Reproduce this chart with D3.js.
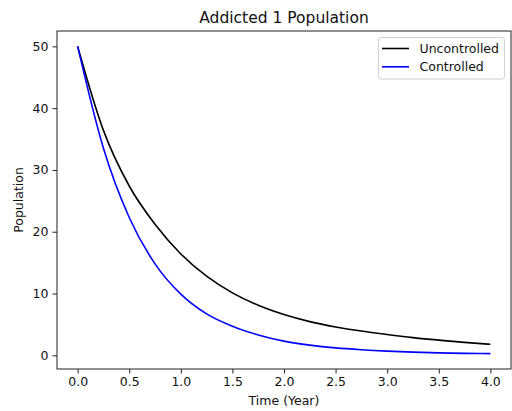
<!DOCTYPE html>
<html>
<head>
<meta charset="utf-8">
<script src="https://cdn.jsdelivr.net/npm/d3@7"></script>
<style>
  body { margin: 0; background: #fff; }
  svg { display: block; font-family: "DejaVu Sans", sans-serif; }
</style>
</head>
<body>
<svg id="chart" width="512" height="411"></svg>
<script>
// values, every 0.25 year
var times = [0, 0.25, 0.5, 0.75, 1.0, 1.25, 1.5, 1.75, 2.0, 2.25, 2.5, 2.75, 3.0, 3.25, 3.5, 3.75, 4.0];
var uncontrolled = [50, 36.4, 27.4, 21.2, 16.4, 12.8, 10.1, 8.1, 6.6, 5.45, 4.59, 3.93, 3.36, 2.86, 2.46, 2.09, 1.78];
var controlled = [50, 33.5, 22.3, 14.8, 9.9, 6.7, 4.7, 3.3, 2.3, 1.65, 1.2, 0.9, 0.68, 0.52, 0.4, 0.32, 0.27];
var seriesNames = ["Uncontrolled", "Controlled"];
var seriesColors = ["#000000", "#0000ff"];
var xTicks = [0, 0.5, 1, 1.5, 2, 2.5, 3, 3.5, 4];
var yTicks = [0, 10, 20, 30, 40, 50];

var margin = {top: 31, right: 1, bottom: 42, left: 57};
var width = 512, height = 411;
var svg = d3.select("#chart");

// matplotlib style 5% padding
var xMin = d3.min(times), xMax = d3.max(times);
var xPad = (xMax - xMin) * 0.05;
var allY = uncontrolled.concat(controlled);
var yMin = d3.min(allY), yMax = d3.max(allY);
var yPad = (yMax - yMin) * 0.05;

var x = d3.scaleLinear()
  .domain([xMin - xPad, xMax + xPad])
  .range([margin.left, width - margin.right]);
var y = d3.scaleLinear()
  .domain([yMin - yPad, yMax + yPad])
  .range([height - margin.bottom, margin.top]);

var line = d3.line()
  .x(d => x(d[0]))
  .y(d => y(d[1]))
  .curve(d3.curveMonotoneX);

var series = [uncontrolled, controlled];
series.forEach((vals, i) => {
  svg.append("path")
    .datum(times.map((t, j) => [t, vals[j]]))
    .attr("fill", "none")
    .attr("stroke", seriesColors[i])
    .attr("stroke-width", 1.6)
    .attr("d", line);
});

var xAxis = svg.append("g")
  .attr("transform", "translate(0," + (height - margin.bottom) + ")")
  .call(d3.axisBottom(x).tickValues(xTicks).tickFormat(d3.format(".1f")).tickSizeOuter(0).tickSize(4.5).tickPadding(4));
var yAxis = svg.append("g")
  .attr("transform", "translate(" + margin.left + ",0)")
  .call(d3.axisLeft(y).tickValues(yTicks).tickSizeOuter(0).tickSize(4.5).tickPadding(4));

[xAxis, yAxis].forEach(g => {
  g.select(".domain").remove();
  g.selectAll("text").attr("font-size", 12.5).attr("fill", "#111").attr("font-family", "DejaVu Sans");
  g.selectAll("line").attr("stroke", "#222").attr("stroke-width", 1);
});

// frame
svg.append("rect")
  .attr("x", margin.left)
  .attr("y", margin.top)
  .attr("width", width - margin.left - margin.right)
  .attr("height", height - margin.top - margin.bottom)
  .attr("fill", "none")
  .attr("stroke", "#222")
  .attr("stroke-width", 1);

svg.append("text")
  .attr("x", (margin.left + width - margin.right) / 2)
  .attr("y", 23)
  .attr("text-anchor", "middle")
  .attr("font-size", 15.5)
  .attr("fill", "#111")
  .text("Addicted 1 Population");

svg.append("text")
  .attr("x", (margin.left + width - margin.right) / 2)
  .attr("y", 405)
  .attr("text-anchor", "middle")
  .attr("font-size", 12.5)
  .attr("fill", "#111")
  .text("Time (Year)");

svg.append("text")
  .attr("transform", "translate(23," + ((margin.top + height - margin.bottom) / 2) + ") rotate(-90)")
  .attr("text-anchor", "middle")
  .attr("font-size", 12.5)
  .attr("fill", "#111")
  .text("Population");

// legend
var legend = svg.append("g");
legend.append("rect")
  .attr("x", 378.5)
  .attr("y", 37.5)
  .attr("width", 126)
  .attr("height", 41.5)
  .attr("rx", 2.5)
  .attr("fill", "#fff")
  .attr("fill-opacity", 0.8)
  .attr("stroke", "#d0d0d0")
  .attr("stroke-width", 1);
seriesNames.forEach((name, i) => {
  var ly = 48.5 + i * 18.3;
  legend.append("line")
    .attr("x1", 382).attr("x2", 409)
    .attr("y1", ly).attr("y2", ly)
    .attr("stroke", seriesColors[i])
    .attr("stroke-width", 1.6);
  legend.append("text")
    .attr("x", 419.5)
    .attr("y", ly + 4.3)
    .attr("font-size", 12.5)
    .attr("fill", "#111")
    .text(name);
});
</script>
</body>
</html>
